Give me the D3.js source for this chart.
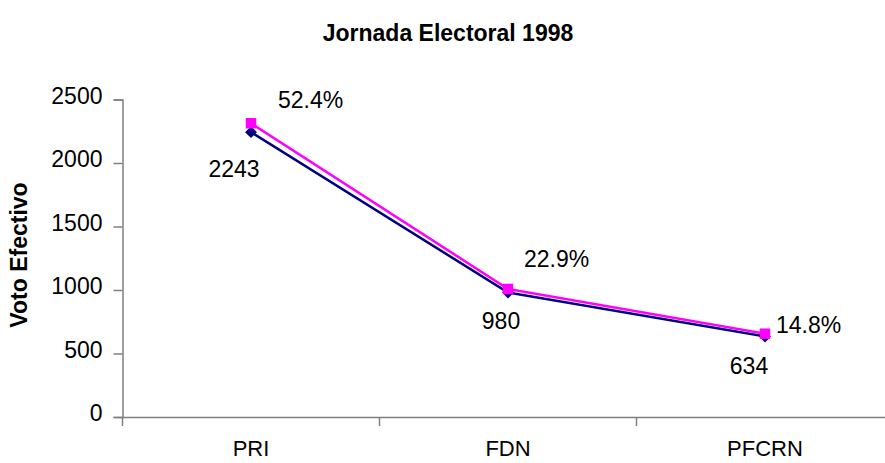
<!DOCTYPE html>
<html><head><meta charset="utf-8">
<script src="https://cdn.jsdelivr.net/npm/d3@7"></script>
<style>body{margin:0;background:#fff;} svg{display:block;}</style>
</head><body>
<script>
const categories = ["PRI", "FDN", "PFCRN"];
const votos = [2243, 980, 634];
const serie2 = [2313, 1008, 656];
const porcentajes = ["52.4%", "22.9%", "14.8%"];
const yTicks = [0, 500, 1000, 1500, 2000, 2500];
const titulo = "Jornada Electoral 1998";
const yTitulo = "Voto Efectivo";

const W = 885, H = 463;
const svg = d3.select("body").append("svg").attr("width", W).attr("height", H);
const font = "Liberation Sans, Arial, sans-serif";

const x = d3.scaleBand().domain(categories).range([122.5, 893.5]);
const y = d3.scaleLinear().domain([0, 2500]).range([417, 99.5]);

// title
svg.append("text").attr("x", 448).attr("y", 41).attr("text-anchor", "middle")
  .attr("font-family", font).attr("font-weight", "bold").attr("font-size", 23).text(titulo);

// y title
svg.append("text").attr("transform", "translate(27,255) rotate(-90)").attr("text-anchor", "middle")
  .attr("font-family", font).attr("font-weight", "bold").attr("font-size", 23).text(yTitulo);

// y axis
const yAxis = svg.append("g").attr("transform", "translate(122.5,0)")
  .call(d3.axisLeft(y).tickValues(yTicks).tickSize(9).tickPadding(11).tickFormat(d3.format("d")));
yAxis.select(".domain").attr("stroke", "#808080").attr("stroke-width", 1.5);
yAxis.selectAll(".tick line").attr("stroke", "#808080").attr("stroke-width", 1.5);
yAxis.selectAll(".tick text").attr("font-family", font).attr("font-size", 23).attr("fill", "#000").attr("dy", "0.17em");

// x axis
const xAxis = svg.append("g").attr("transform", "translate(0," + y(0) + ")")
  .call(d3.axisBottom(x).tickSize(0).tickPadding(0));
xAxis.select(".domain").attr("stroke", "#808080").attr("stroke-width", 1.5);
xAxis.selectAll(".tick text").attr("font-family", font).attr("font-size", 22).attr("fill", "#000")
  .attr("dy", null).attr("y", 39);
// boundary ticks between categories
const bounds = categories.map((c) => x(c)).concat([x.range()[1]]);
svg.append("g").selectAll("line").data(bounds).join("line")
  .attr("x1", d => d).attr("x2", d => d).attr("y1", y(0)).attr("y2", y(0) + 9)
  .attr("stroke", "#808080").attr("stroke-width", 1.5);

const cx = c => x(c) + x.bandwidth() / 2;

// navy series
svg.append("path").datum(votos)
  .attr("d", d3.line().x((d, i) => cx(categories[i])).y(d => y(d)))
  .attr("fill", "none").attr("stroke", "#000080").attr("stroke-width", 2.5);
svg.append("g").selectAll("path").data(votos).join("path")
  .attr("d", d3.symbol().type(d3.symbolDiamond2).size(90))
  .attr("transform", (d, i) => `translate(${cx(categories[i])},${y(d)})`)
  .attr("fill", "#000080");

// magenta series
svg.append("path").datum(serie2)
  .attr("d", d3.line().x((d, i) => cx(categories[i])).y(d => y(d)))
  .attr("fill", "none").attr("stroke", "#FF00FF").attr("stroke-width", 2.5);
svg.append("g").selectAll("path").data(serie2).join("path")
  .attr("d", d3.symbol().type(d3.symbolSquare).size(110))
  .attr("transform", (d, i) => `translate(${cx(categories[i])},${y(d)})`)
  .attr("fill", "#FF00FF");

// labels
const navyOff = [[-17, 45], [-7, 36], [-16, 38]];
const magOff = [[27, -15], [16, -22], [11, -1]];
svg.append("g").selectAll("text").data(votos).join("text")
  .attr("x", (d, i) => cx(categories[i]) + navyOff[i][0])
  .attr("y", (d, i) => y(d) + navyOff[i][1])
  .attr("text-anchor", "middle").attr("font-family", font).attr("font-size", 23).text(d => d);
svg.append("g").selectAll("text").data(porcentajes).join("text")
  .attr("x", (d, i) => cx(categories[i]) + magOff[i][0])
  .attr("y", (d, i) => y(serie2[i]) + magOff[i][1])
  .attr("text-anchor", "start").attr("font-family", font).attr("font-size", 23).text(d => d);
</script>
</body></html>
